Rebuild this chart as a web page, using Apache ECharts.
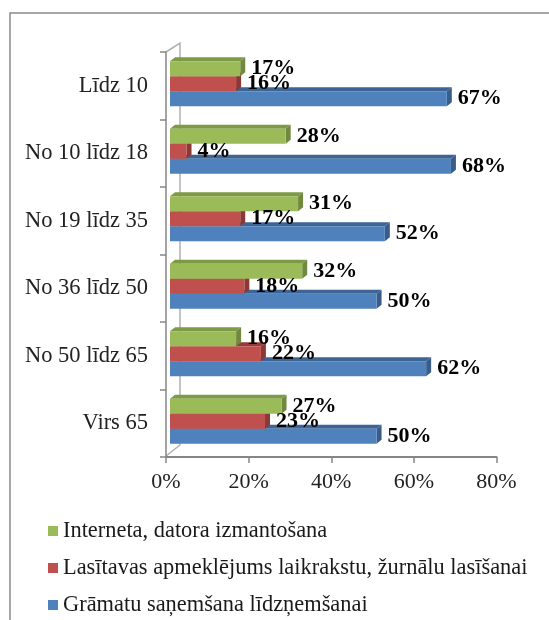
<!DOCTYPE html>
<html>
<head>
<meta charset="utf-8">
<title>Chart</title>
<script src="https://cdn.jsdelivr.net/npm/echarts@6/dist/echarts.min.js"></script>
<style>
html, body { margin: 0; padding: 0; background: #fff; }
#chart { width: 549px; height: 620px; }
</style>
</head>
<body>
<div id="chart"></div>
<script>
// dati
var categories = ['Līdz 10', 'No 10 līdz 18', 'No 19 līdz 35', 'No 36 līdz 50', 'No 50 līdz 65', 'Virs 65'];
var internets = [17, 28, 31, 32, 16, 27];
var lasitava = [16, 4, 17, 18, 22, 23];
var gramatas = [67, 68, 52, 50, 62, 50];
var tickMax = 80;
var tickStep = 20;

var serifFont = '"Liberation Serif", "Times New Roman", serif';
var axisGray = '#868686';
var wallGray = '#b0b0b0';
var depthX = 5, depthY = 4, barH = 15, startGap = 4;

var myChart = echarts.init(document.getElementById('chart'));

// 3D josla: priekša, augša, sāns + etiķete
function barRenderer(slot, colors, z) {
	return function(params, api) {
		var end = api.coord([api.value(0), api.value(1)]);
		var start = api.coord([0, api.value(1)]);
		var x0 = start[0] + startGap;
		var x1 = end[0] + startGap;
		var y0 = end[1] - 24.5 + slot * barH;
		var y1 = y0 + barH;
		return {
			type: 'group',
			children: [
				{ type: 'polygon', z2: z, shape: { points: [[x0, y0], [x0 + depthX, y0 - depthY], [x1 + depthX, y0 - depthY], [x1, y0]] }, style: { fill: colors[1] } },
				{ type: 'polygon', z2: z, shape: { points: [[x1, y0], [x1 + depthX, y0 - depthY], [x1 + depthX, y1 - depthY], [x1, y1]] }, style: { fill: colors[2] } },
				{ type: 'rect', z2: z, shape: { x: x0, y: y0, width: x1 - x0, height: barH }, style: { fill: colors[0] } },
				{ type: 'text', z2: 20, style: { x: x1 + depthX + 6, y: (y0 + y1) / 2, text: api.value(0) + '%', fill: '#000', font: 'bold 22px ' + serifFont, verticalAlign: 'middle' } }
			]
		};
	};
}

function makeSeries(name, values, slot, colors, z) {
	return {
		name: name,
		type: 'custom',
		silent: true,
		itemStyle: { color: colors[0] },
		encode: { x: 0, y: 1 },
		data: values.map(function(v, i) { return [v, i]; }),
		renderItem: barRenderer(slot, colors, z)
	};
}

var names = ['Interneta, datora izmantošana', 'Lasītavas apmeklējums laikrakstu, žurnālu lasīšanai', 'Grāmatu saņemšana līdzņemšanai'];

myChart.setOption({
	animation: false,
	backgroundColor: '#fff',
	textStyle: { fontFamily: serifFont },
	grid: { left: 166, top: 52, width: 330.5, height: 405 },
	legend: {
		left: 48, top: 520,
		padding: 0,
		orient: 'vertical',
		icon: 'rect',
		itemWidth: 10, itemHeight: 10,
		itemGap: 15,
		selectedMode: false,
		data: names,
		textStyle: { fontFamily: serifFont, fontSize: 22.4, color: '#1a1a1a' }
	},
	xAxis: {
		type: 'value',
		min: 0, max: tickMax, interval: tickStep,
		splitLine: { show: false },
		axisLine: { show: true, lineStyle: { color: axisGray, width: 2 } },
		axisTick: { show: true, length: 6, lineStyle: { color: axisGray, width: 1.5 } },
		axisLabel: { formatter: '{value}%', fontSize: 22, color: '#222', margin: 14, fontFamily: serifFont }
	},
	yAxis: {
		type: 'category',
		inverse: true,
		data: categories,
		axisLine: { show: true, lineStyle: { color: axisGray, width: 1.5 } },
		axisTick: { show: true, length: 6, lineStyle: { color: axisGray, width: 1.5 } },
		axisLabel: { fontSize: 22.5, color: '#222', margin: 18, fontFamily: serifFont }
	},
	series: [
		makeSeries(names[2], gramatas, 2, ['#4f81bd', '#3c6494', '#385d8a'], 1),
		makeSeries(names[1], lasitava, 1, ['#c0504d', '#953b39', '#8c3836'], 2),
		makeSeries(names[0], internets, 0, ['#9bbb59', '#7d9a46', '#71893f'], 3)
	],
	graphic: [
		// rāmis
		{ type: 'polyline', silent: true, shape: { points: [[10, 620], [10, 13], [549, 13]] }, style: { fill: null, stroke: '#8a8a8a', lineWidth: 1.5 } },
		// sienas līnijas
		{ type: 'polyline', silent: true, shape: { points: [[166, 52], [180, 43], [180, 445], [166, 456]] }, style: { fill: null, stroke: wallGray, lineWidth: 1.5 } }
	]
});
</script>
</body>
</html>
